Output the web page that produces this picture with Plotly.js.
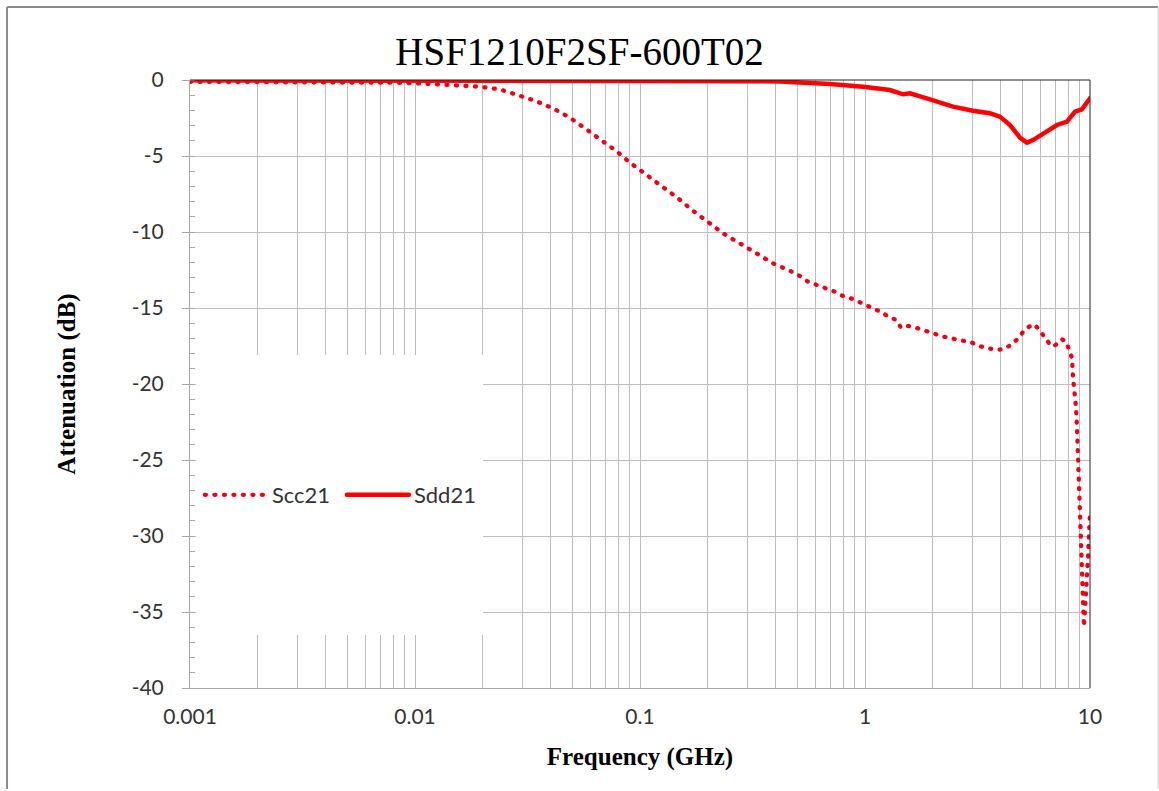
<!DOCTYPE html>
<html>
<head>
<meta charset="utf-8">
<script src="https://cdn.plot.ly/plotly-3.0.1.min.js"></script>
<style>
  html, body { margin: 0; padding: 0; background: #fff; }
  #chart { width: 1159px; height: 791px; }
  .scatterlayer .js-line, .legendlines path { stroke-linecap: round; }
</style>
</head>
<body>
<div id="chart"></div>
<script>
// Scc21 (common mode) — frequency in GHz, attenuation in dB
var sccFreq = [0.001, 0.002, 0.004, 0.006, 0.0086, 0.0102, 0.0158, 0.0194, 0.0239, 0.0284,
  0.0341, 0.041, 0.0488, 0.057, 0.0678, 0.079, 0.0903, 0.1075, 0.1265, 0.1475,
  0.172, 0.2, 0.234, 0.278, 0.331, 0.39, 0.464, 0.514, 0.558, 0.612,
  0.678, 0.736, 0.798, 0.885, 0.97, 1.052, 1.153, 1.253, 1.374, 1.446,
  1.553, 1.72, 1.888, 2.07, 2.245, 2.46, 2.7, 2.99, 3.21, 3.52,
  3.82, 4.15, 4.5, 4.79, 5.09, 5.36, 5.64, 5.93, 6.25, 6.58,
  6.85, 7.13, 7.51, 7.82, 8.07, 8.32, 8.4, 8.49, 8.66, 8.75,
  8.84, 8.93, 8.97, 9.03, 9.12, 9.21, 9.31, 9.35, 9.4, 9.5,
  9.7, 9.8, 9.9, 10.0];
var scc21 = [-0.12, -0.12, -0.13, -0.15, -0.18, -0.22, -0.33, -0.44, -0.62, -0.95,
  -1.36, -1.86, -2.48, -3.18, -3.95, -4.71, -5.44, -6.25, -7.02, -7.78,
  -8.6, -9.36, -10.09, -10.75, -11.45, -12.06, -12.55, -12.9, -13.27, -13.49,
  -13.66, -13.93, -14.21, -14.41, -14.69, -14.91, -15.2, -15.5, -15.79, -16.3,
  -16.18, -16.34, -16.56, -16.73, -16.89, -17.0, -17.13, -17.28, -17.5, -17.66,
  -17.76, -17.7, -17.39, -17.0, -16.49, -16.23, -16.07, -16.4, -16.89, -17.32,
  -17.54, -17.37, -17.06, -17.21, -17.72, -18.31, -19.52, -20.18, -21.5, -22.8,
  -24.56, -25.88, -27.2, -28.5, -30.26, -32.0, -33.3, -34.6, -35.97, -34.87,
  -32.9, -31.36, -29.8, -28.5];

// Sdd21 (differential mode)
var sddFreq = [0.001, 0.01, 0.05, 0.1, 0.2, 0.3, 0.419, 0.699, 0.98, 1.29,
  1.475, 1.585, 1.945, 2.46, 3.02, 3.59, 3.98, 4.41, 4.89, 5.25,
  5.58, 6.44, 7.13, 7.9, 8.58, 9.21, 9.7, 10.0];
var sdd21 = [-0.02, -0.02, -0.03, -0.04, -0.06, -0.08, -0.1, -0.26, -0.44, -0.66,
  -0.94, -0.88, -1.27, -1.75, -2.02, -2.19, -2.41, -2.96, -3.8, -4.12,
  -3.95, -3.4, -2.96, -2.74, -2.08, -1.93, -1.53, -1.2];

// axis ticks
var xDecades = [0.001, 0.01, 0.1, 1, 10];
var xDecadeText = ['0.001', '0.01', '0.1', '1', '10'];
var yTickVals = [0, -5, -10, -15, -20, -25, -30, -35, -40];
var yTickText = ['0', '-5', '-10', '-15', '-20', '-25', '-30', '-35', '-40'];

// all log gridline positions (1..9 × each decade), labels only at decades
var xGridVals = [], xGridText = [];
[0.001, 0.01, 0.1, 1].forEach(function (d, i) {
  for (var k = 1; k <= 9; k++) {
    xGridVals.push(+(d * k).toPrecision(3));
    xGridText.push(k === 1 ? xDecadeText[i] : '');
  }
});
xGridVals.push(xDecades[4]); xGridText.push(xDecadeText[4]);

var traces = [
  {
    x: sccFreq, y: scc21, name: 'Scc21', type: 'scatter', mode: 'lines',
    line: { color: '#f00018', width: 4.3, dash: '1px,8.5px' }
  },
  {
    x: sddFreq, y: sdd21, name: 'Sdd21', type: 'scatter', mode: 'lines',
    line: { color: '#ff0000', width: 4.5 }
  }
];

var gridColor = '#bdbdbd';
var tickFont = { family: 'Lato, Carlito, sans-serif', size: 21, color: '#333' };
var serifBold = { family: 'Liberation Serif, Times New Roman, serif', size: 25, color: '#000' };

var layout = {
  width: 1159, height: 791,
  margin: { l: 190, r: 69, t: 80, b: 103 },
  paper_bgcolor: '#fff', plot_bgcolor: '#fff',
  showlegend: true,
  title: {
    text: 'HSF1210F2SF-600T02',
    font: { family: 'Liberation Serif, Times New Roman, serif', size: 39, color: '#000' },
    x: 0.5, xref: 'container', xanchor: 'center',
    y: 0.935, yref: 'container', yanchor: 'middle'
  },
  xaxis: {
    type: 'log', range: [-3, 1],
    tickvals: xGridVals, ticktext: xGridText,
    showgrid: true, gridcolor: gridColor, gridwidth: 1,
    ticks: '',
    ticklabelstandoff: 10,
    showline: true, linecolor: '#a6a6a6', linewidth: 1,
    zeroline: false,
    tickfont: tickFont,
    title: { text: '<b>Frequency (GHz)</b>', font: serifBold, standoff: 20 }
  },
  yaxis: {
    range: [-40, 0],
    tickvals: yTickVals, ticktext: yTickText,
    showgrid: true, gridcolor: gridColor, gridwidth: 1,
    ticks: 'outside', ticklen: 7, tickcolor: '#a6a6a6',
    showline: true, linecolor: '#a6a6a6', linewidth: 1,
    zeroline: false,
    tickfont: tickFont,
    ticklabelstandoff: 14,
    minor: { dtick: 1, tick0: 0, ticks: 'inside', ticklen: 5, tickcolor: '#a6a6a6', showgrid: false },
    title: { text: '<b>Attenuation (dB)</b>', font: serifBold, standoff: 48 }
  },
  legend: {
    orientation: 'h',
    x: 0.011, xanchor: 'left',
    y: 0.3174, yanchor: 'middle',
    bgcolor: 'rgba(0,0,0,0)',
    font: { family: 'Lato, Carlito, sans-serif', size: 22, color: '#333' },
    itemwidth: 62,
    entrywidth: 65, entrywidthmode: 'pixels',
    tracegroupgap: 0
  },
  shapes: [
    // white legend area covering grid
    { type: 'rect', xref: 'paper', yref: 'paper', x0: 0.0067, x1: 0.3256, y0: 0.0872, y1: 0.5477,
      fillcolor: '#fff', line: { width: 0 }, layer: 'above' },
    // top and right plot border
    { type: 'line', xref: 'paper', yref: 'paper', x0: 0, x1: 1, y0: 1, y1: 1,
      line: { color: '#222', width: 1 }, layer: 'above' },
    { type: 'line', xref: 'paper', yref: 'paper', x0: 1, x1: 1, y0: 0, y1: 1,
      line: { color: '#222', width: 1 }, layer: 'above' },
    // outer chart frame
    { type: 'line', xref: 'paper', yref: 'paper', x0: -0.2033, x1: 1.0756, y0: 1.1201, y1: 1.1201,
      line: { color: '#8a8a8a', width: 2 }, layer: 'below' },
    { type: 'line', xref: 'paper', yref: 'paper', x0: -0.2033, x1: -0.2033, y0: -0.166, y1: 1.1201,
      line: { color: '#8a8a8a', width: 2 }, layer: 'below' },
    { type: 'line', xref: 'paper', yref: 'paper', x0: 1.0756, x1: 1.0756, y0: -0.166, y1: 1.1201,
      line: { color: '#cfcfcf', width: 1 }, layer: 'below' }
  ]
};

Plotly.newPlot('chart', traces, layout, { displayModeBar: false, staticPlot: true });
</script>
</body>
</html>
